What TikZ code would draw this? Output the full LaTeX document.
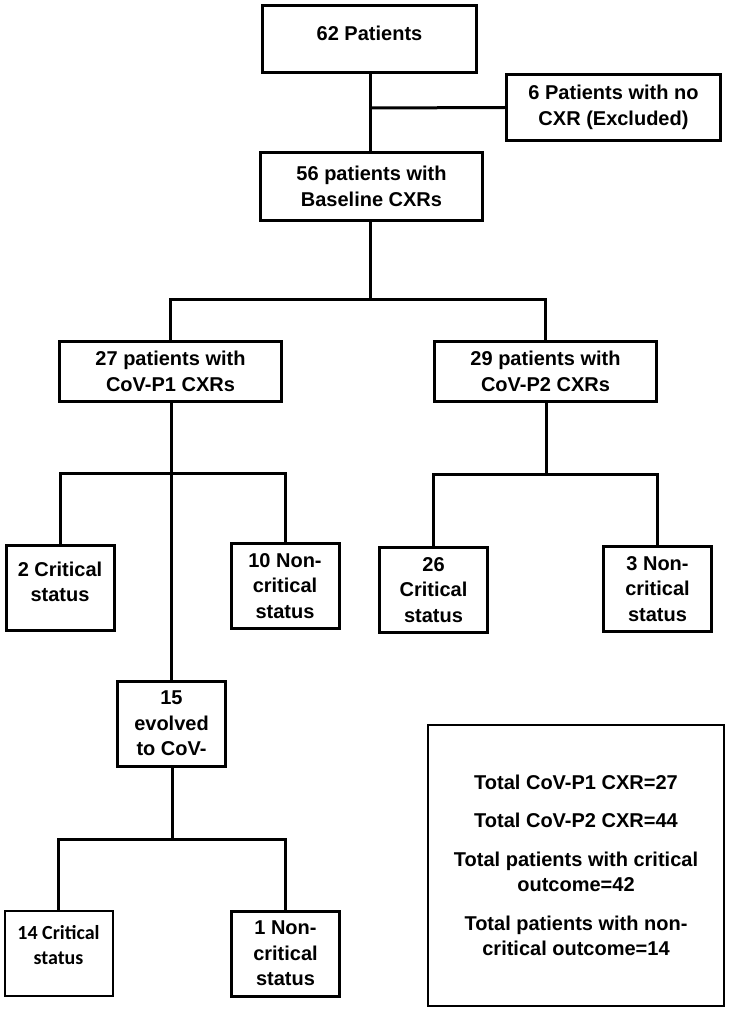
\documentclass[tikz,border=0pt]{standalone}
\usepackage{fontspec}
\setmainfont{Liberation Sans}
\newfontfamily\calfont{Carlito}
\usetikzlibrary{positioning}

\begin{document}
\begin{tikzpicture}[x=1pt,y=-1pt,
  box/.style={draw,line width=3pt,align=center,inner sep=2pt,font=\fontsize{20}{25.5}\selectfont\bfseries},
  wide/.style={box,minimum width=222pt,minimum height=60pt},
  leaf/.style={box,minimum width=108pt,minimum height=85pt},
  link/.style={line width=3pt}]
  \useasboundingbox (0,0) rectangle (729,1011);

  \node[box,minimum width=214pt,minimum height=67pt,text depth=12pt] (pat) at (369.5,39) {62 Patients};
  \node[box,minimum width=214pt,minimum height=66pt] (excl) at (613.5,107.5) {6 Patients with no\\CXR (Excluded)};
  \node[wide,minimum height=68pt] (base) at (371.5,186.5) {56 patients with\\Baseline CXRs};
  \node[wide] (pone) at (170.5,371.5) {27 patients with\\CoV-P1 CXRs};
  \node[wide] (ptwo) at (545.5,371.5) {29 patients with\\CoV-P2 CXRs};
  \node[leaf,text depth=12pt] (crit2) at (60,587.5) {2 Critical\\status};
  \node[leaf] (non10) at (285,586) {10 Non-\\critical\\status};
  \node[leaf] (crit26) at (433.5,590) {26\\Critical\\status};
  \node[leaf] (non3) at (657.5,589) {3 Non-\\critical\\status};
  \node[leaf] (evo) at (171.5,723.5) {15\\evolved\\to CoV-};
  \node[leaf,line width=2pt,text depth=16pt,font=\fontsize{20}{25.5}\selectfont\calfont\bfseries] (crit14) at (58.5,953) {14 Critical\\status};
  \node[leaf] (non1) at (285.5,953.5) {1 Non-\\critical\\status};
  \node[box,line width=2pt,minimum width=296pt,minimum height=281pt] (total) at (576,865.5)
    {Total CoV-P1 CXR=27\\[13pt]Total CoV-P2 CXR=44\\[13pt]Total patients with critical\\outcome=42\\[13pt]Total patients with non-\\critical outcome=14};

  \coordinate (jx) at (370,108);
  \coordinate (s1) at (370,299);
  \coordinate (s2) at (171,473);
  \coordinate (s3) at (546,474);
  \coordinate (s4) at (172,839);

  \draw[link] (jx |- pat.south) -- (jx |- base.north);
  \draw[link] (jx) -- (excl.west);
  \draw[link] (s1 |- base.south) -- (s1);
  \draw[link] (pone.north) |- (s1) -| (ptwo.north);
  \draw[link] (s2 |- pone.south) -- (s2 |- evo.north);
  \draw[link] (crit2.north) |- (s2) -| (non10.north);
  \draw[link] (s3 |- ptwo.south) -- (s3);
  \draw[link] (crit26.north) |- (s3) -| (non3.north);
  \draw[link] (s4 |- evo.south) -- (s4);
  \draw[link] (crit14.north) |- (s4) -| (non1.north);
\end{tikzpicture}
\end{document}
